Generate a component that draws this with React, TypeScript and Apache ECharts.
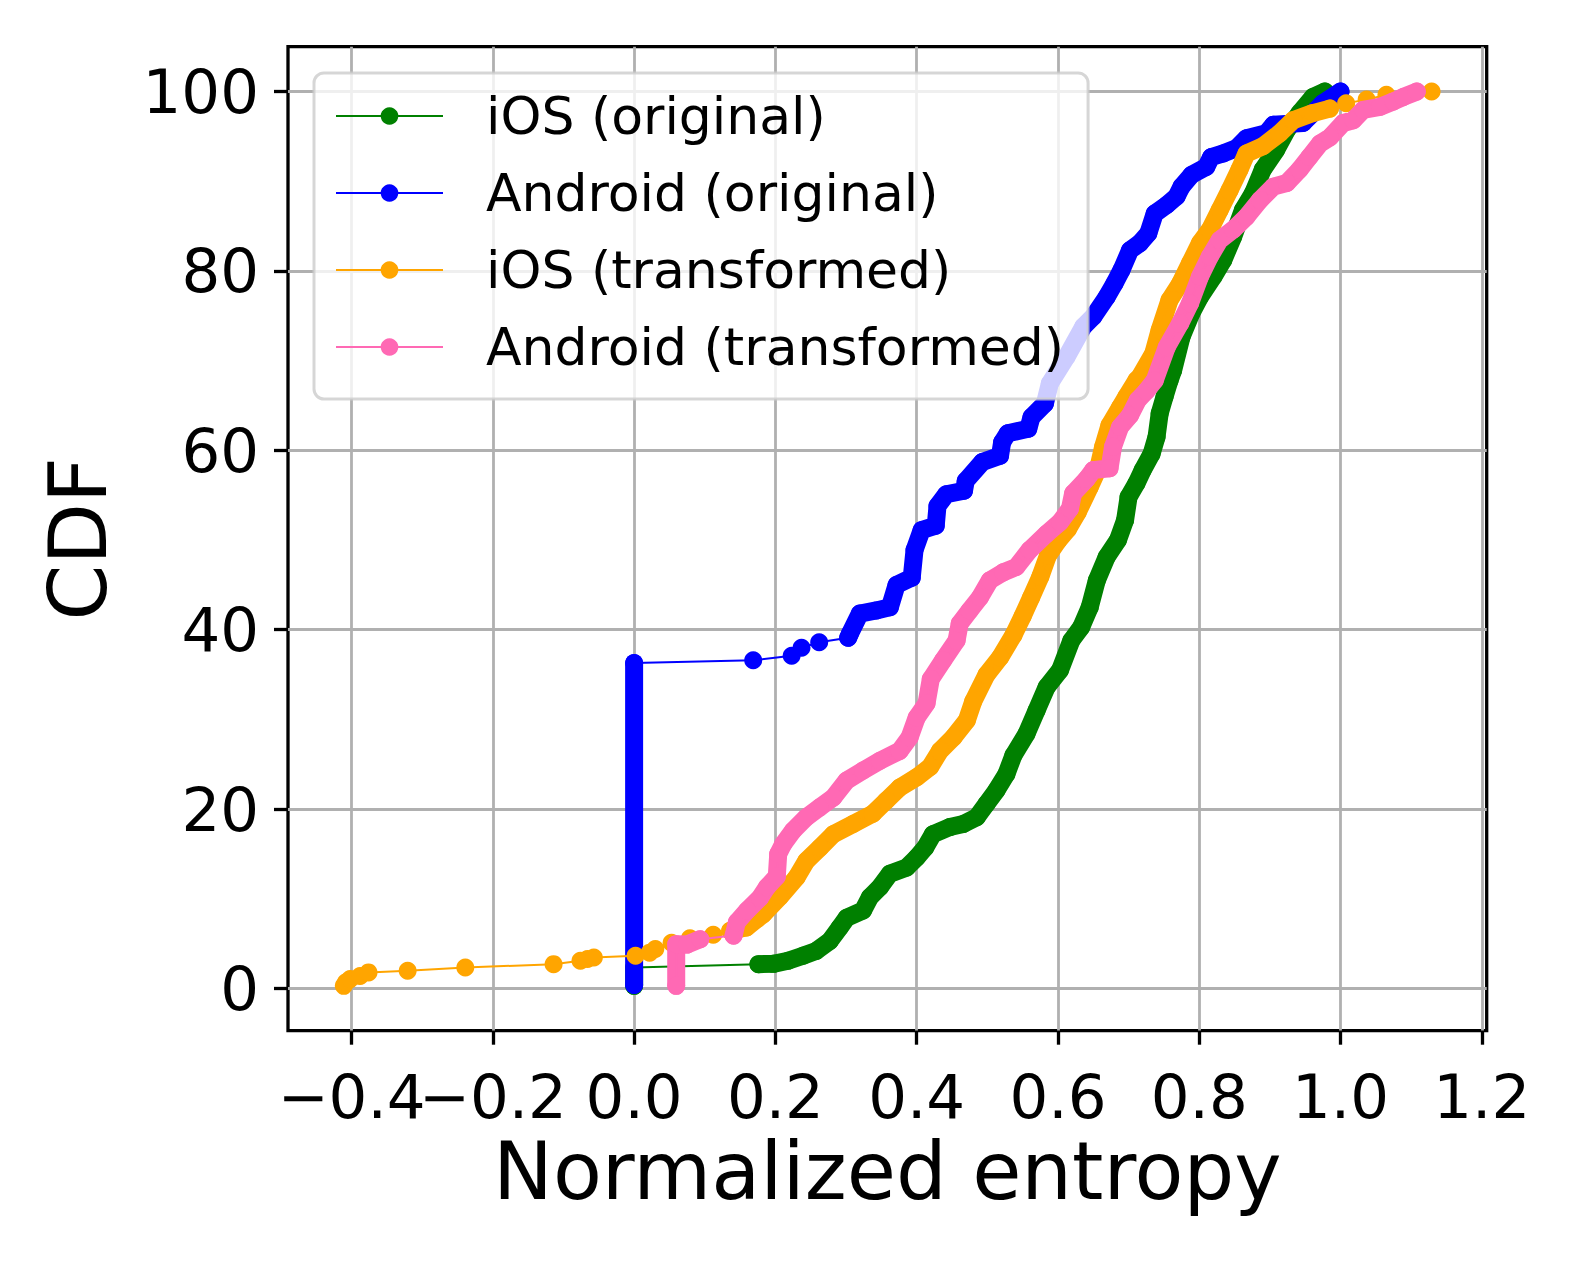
import React, { useEffect, useRef } from 'react';
import * as echarts from 'echarts';

const seriesNames = ['iOS (original)', 'Android (original)', 'iOS (transformed)', 'Android (transformed)'];
const seriesColors = ['#008000', '#0000ff', '#ffa500', '#ff69b4'];

const xTickValues = [-0.4, -0.2, 0, 0.2, 0.4, 0.6, 0.8, 1.0, 1.2];
const xTickLabels = ['\u22120.4', '\u22120.2', '0.0', '0.2', '0.4', '0.6', '0.8', '1.0', '1.2'];
const yTickValues = [0, 20, 40, 60, 80, 100];
const yTickLabels = ['0', '20', '40', '60', '80', '100'];

// iOS (original)
const iosOrigAtZero = [[0, 0.3], [0, 2.34]];
const iosOrigMain = [
  [0.176, 2.72], [0.197, 2.75], [0.218, 3.1], [0.239, 3.65], [0.258, 4.2], [0.277, 5.3], [0.291, 6.8],
  [0.301, 7.9], [0.324, 8.7], [0.334, 10.2], [0.348, 11.3], [0.362, 12.8], [0.386, 13.5], [0.4, 14.6],
  [0.412, 15.7], [0.423, 17.2], [0.447, 18.0], [0.466, 18.35], [0.485, 19.1], [0.499, 20.6], [0.513, 22.1],
  [0.527, 23.9], [0.537, 26.0], [0.5555, 28.4], [0.5697, 31.0], [0.584, 33.6], [0.603, 35.5], [0.619, 38.8],
  [0.633, 40.3], [0.645, 42.5], [0.655, 45.5], [0.669, 48.1], [0.685, 50.0], [0.695, 52.2], [0.7, 54.8],
  [0.711, 56.3], [0.72, 57.8], [0.7325, 59.6], [0.7396, 61.5], [0.744, 64.1], [0.751, 66.0], [0.758, 67.8],
  [0.763, 68.9], [0.775, 72.65], [0.789, 75.3], [0.801, 77.1], [0.82, 79.35], [0.834, 81.2], [0.848, 83.8],
  [0.862, 86.8], [0.876, 88.65], [0.89, 91.3], [0.909, 93.5], [0.924, 95.7], [0.942, 97.6], [0.961, 99.4],
  [0.978, 100],
];

// Android (original)
const androidOrigAtZero = [[0, 0.4], [0, 36.3]];
const androidOrigGap = [[0.1686, 36.6], [0.223, 37.1], [0.237, 38.0], [0.262, 38.6]];
const androidOrigMain = [
  [0.303, 39.1], [0.3055, 39.55], [0.3196, 41.8], [0.343, 42.15], [0.362, 42.5], [0.3716, 45.0], [0.393, 45.8],
  [0.397, 48.9], [0.407, 51.1], [0.427, 51.6], [0.4295, 53.8], [0.442, 55.1], [0.467, 55.5], [0.4695, 56.6],
  [0.493, 58.7], [0.518, 59.4], [0.521, 60.9], [0.529, 61.9], [0.558, 62.4], [0.5626, 63.7], [0.5815, 65.2],
  [0.5885, 67.45], [0.612, 70.4], [0.636, 73.8], [0.65, 74.9], [0.669, 77.1], [0.68, 78.6], [0.69, 80.1],
  [0.702, 82.3], [0.716, 83.1], [0.728, 84.2], [0.737, 86.4], [0.754, 87.35], [0.768, 88.3], [0.775, 89.4],
  [0.789, 90.7], [0.81, 91.6], [0.817, 92.7], [0.834, 93.1], [0.853, 93.7], [0.867, 94.8], [0.895, 95.35],
  [0.905, 96.3], [0.947, 96.5], [0.975, 98.7], [1.0, 100],
];

// iOS (transformed)
const iosTransLeft = [
  [-0.411, 0.3], [-0.408, 0.7], [-0.402, 1.05], [-0.388, 1.4], [-0.376, 1.8], [-0.3206, 1.98], [-0.239, 2.34],
  [-0.114, 2.72], [-0.076, 3.1], [-0.066, 3.3], [-0.057, 3.46], [0.002, 3.65], [0.022, 4.0], [0.03, 4.4],
  [0.053, 5.1], [0.079, 5.6], [0.112, 6.0],
];
const iosTransMain = [
  [0.136, 6.44], [0.159, 6.8], [0.174, 7.75], [0.183, 8.3], [0.206, 10.2], [0.23, 12.4], [0.244, 14.25],
  [0.263, 15.7], [0.282, 17.2], [0.31, 18.35], [0.338, 19.5], [0.357, 20.95], [0.376, 22.4], [0.4, 23.55],
  [0.419, 24.7], [0.433, 26.5], [0.452, 28.0], [0.471, 29.9], [0.48, 32.0], [0.499, 35.0], [0.518, 36.9],
  [0.537, 39.4], [0.55, 41.5], [0.562, 43.6], [0.575, 45.9], [0.586, 48.3], [0.6, 49.9], [0.614, 51.2],
  [0.628, 53.1], [0.645, 55.9], [0.657, 58.0], [0.664, 60.4], [0.673, 62.8], [0.688, 64.8], [0.697, 66.0],
  [0.711, 67.8], [0.716, 68.2], [0.735, 70.8], [0.744, 73.4], [0.758, 76.75], [0.773, 78.6], [0.787, 80.85],
  [0.801, 83.1], [0.815, 84.6], [0.829, 86.8], [0.843, 89.0], [0.857, 91.3], [0.867, 93.1], [0.89, 93.9],
  [0.914, 95.35], [0.933, 96.8], [0.961, 97.6], [0.985, 98.1],
];
const iosTransTail = [[1.008, 98.7], [1.037, 99.1], [1.065, 99.65], [1.129, 100]];

// Android (transformed)
const androidTransStart = [[0.0596, 0.3], [0.0596, 4.95], [0.0747, 4.9], [0.0936, 5.5]];
const androidTransMain = [
  [0.1408, 5.9], [0.1455, 7.4], [0.16, 8.7], [0.178, 10.1], [0.188, 11.3], [0.202, 12.5], [0.204, 15.0],
  [0.211, 16.1], [0.225, 17.6], [0.244, 19.1], [0.263, 20.2], [0.282, 21.3], [0.301, 23.2], [0.324, 24.3],
  [0.348, 25.4], [0.376, 26.5], [0.39, 28.0], [0.4, 30.2], [0.414, 31.8], [0.42, 34.5], [0.4375, 36.6],
  [0.4565, 38.8], [0.461, 40.7], [0.475, 42.15], [0.4895, 43.6], [0.5036, 45.5], [0.5225, 46.4], [0.541, 47.0],
  [0.56, 48.9], [0.584, 50.7], [0.603, 52.0], [0.617, 53.5], [0.6215, 55.2], [0.6405, 56.8], [0.65, 57.8],
  [0.673, 58.0], [0.678, 60.4], [0.688, 62.6], [0.702, 63.9], [0.713, 65.6], [0.725, 66.6], [0.737, 67.8],
  [0.754, 71.5], [0.773, 74.15], [0.787, 76.4], [0.801, 79.35], [0.815, 81.6], [0.829, 83.45], [0.848, 84.6],
  [0.867, 86.05], [0.886, 87.9], [0.905, 89.4], [0.924, 89.8], [0.942, 91.3], [0.956, 92.7], [0.971, 94.2],
  [0.985, 94.9], [1.004, 96.5], [1.018, 96.8], [1.032, 97.95], [1.056, 98.3], [1.075, 98.9], [1.089, 99.4],
  [1.108, 100],
];

const datasets = [
  { all: [...iosOrigAtZero, ...iosOrigMain], dense: [iosOrigAtZero, iosOrigMain] },
  { all: [...androidOrigAtZero, ...androidOrigGap, ...androidOrigMain], dense: [androidOrigAtZero, androidOrigMain] },
  { all: [...iosTransLeft, ...iosTransMain, ...iosTransTail], dense: [iosTransMain] },
  { all: [...androidTransStart, ...androidTransMain], dense: [androidTransStart, androidTransMain] },
];

const FONT = 'DejaVu Sans';
const X_MIN = -0.49;
const X_MAX = 1.207;

const xLabelOf = (v: number) => {
  const idx = xTickValues.findIndex((t) => Math.abs(t - v) < 1e-9);
  return idx >= 0 ? xTickLabels[idx] : '';
};
const yLabelOf = (v: number) => {
  const idx = yTickValues.findIndex((t) => Math.abs(t - v) < 1e-9);
  return idx >= 0 ? yTickLabels[idx] : '';
};

export default function App() {
  const ref = useRef<HTMLDivElement>(null);
  useEffect(() => {
    const chart = echarts.init(ref.current as HTMLDivElement, null, { renderer: 'svg' });
    const series: any[] = [];
    datasets.forEach((ds, i) => {
      const color = seriesColors[i];
      const z = 3 + i;
      ds.dense.forEach((seg, k) => {
        series.push({
          type: 'line',
          name: seriesNames[i] + ' dense ' + k,
          data: seg,
          symbol: 'none',
          silent: true,
          z,
          lineStyle: { color, width: 18, cap: 'round', join: 'round' },
          itemStyle: { color },
          emphasis: { disabled: true },
          clip: false,
        });
      });
      series.push({
        type: 'line',
        name: seriesNames[i],
        data: ds.all,
        symbol: 'circle',
        symbolSize: 18,
        showAllSymbol: true,
        silent: true,
        z,
        lineStyle: { color, width: 2 },
        itemStyle: { color, borderWidth: 0 },
        emphasis: { disabled: true },
        clip: false,
      });
    });

    const labelStyle = {
      fontFamily: FONT,
      fontSize: 61,
      color: '#000000',
      margin: 35,
    };

    const option: any = {
      animation: false,
      backgroundColor: '#ffffff',
      textStyle: { fontFamily: FONT },
      grid: {
        left: 288,
        top: 46.7,
        width: 1198.7,
        height: 984,
        show: true,
        borderColor: '#000000',
        borderWidth: 3.3,
        backgroundColor: 'transparent',
      },
      legend: {
        data: seriesNames,
        orient: 'vertical',
        left: 314,
        top: 73,
        z: 20,
        itemWidth: 107,
        itemHeight: 22,
        itemGap: 21,
        padding: [15, 24, 24, 21],
        backgroundColor: 'rgba(255,255,255,0.8)',
        borderColor: 'rgba(204,204,204,0.8)',
        borderWidth: 3,
        borderRadius: 10,
        selectedMode: false,
        textStyle: {
          fontFamily: FONT,
          fontSize: 52,
          color: '#000000',
          lineHeight: 56,
          padding: [0, 0, 0, 38],
        },
      },
      xAxis: [
        {
          type: 'value',
          position: 'bottom',
          offset: 0,
          min: X_MIN,
          max: X_MAX,
          name: 'Normalized entropy',
          nameLocation: 'middle',
          nameGap: 93,
          nameTextStyle: { fontFamily: FONT, fontSize: 80, color: '#000000' },
          axisLine: { show: false, onZero: false },
          axisTick: {
            show: true,
            customValues: xTickValues,
            length: 14,
            inside: false,
            lineStyle: { color: '#000000', width: 3.3 },
          },
          axisLabel: {
            ...labelStyle,
            customValues: xTickValues.slice(1),
            showMinLabel: true,
            showMaxLabel: true,
            formatter: xLabelOf,
          },
          splitLine: { show: true, lineStyle: { color: '#b0b0b0', width: 2.8 } },
        },
        {
          type: 'value',
          position: 'bottom',
          offset: 0,
          min: X_MIN,
          max: X_MAX,
          axisLine: { show: false, onZero: false },
          axisTick: { show: false },
          axisLabel: {
            ...labelStyle,
            customValues: xTickValues.slice(0, 1),
            showMinLabel: true,
            showMaxLabel: true,
            formatter: xLabelOf,
          },
          splitLine: { show: false },
        },
      ],
      yAxis: {
        type: 'value',
        min: -4.7,
        max: 105,
        name: 'CDF',
        nameLocation: 'middle',
        nameGap: 170,
        nameTextStyle: { fontFamily: FONT, fontSize: 80, color: '#000000' },
        axisLine: { show: false, onZero: false },
        axisTick: {
          show: true,
          customValues: yTickValues,
          length: 14,
          inside: false,
          lineStyle: { color: '#000000', width: 3.3 },
        },
        axisLabel: {
          customValues: yTickValues,
          showMinLabel: true,
          showMaxLabel: true,
          formatter: yLabelOf,
          fontFamily: FONT,
          fontSize: 61,
          color: '#000000',
          margin: 29,
        },
        splitLine: { show: true, lineStyle: { color: '#b0b0b0', width: 2.8 } },
      },
      series,
    };
    chart.setOption(option);
    return () => chart.dispose();
  }, []);
  return (
    <div
      ref={ref}
      style={{ position: 'absolute', left: 0, top: 0, width: 1578, height: 1262, background: '#ffffff' }}
    />
  );
}
